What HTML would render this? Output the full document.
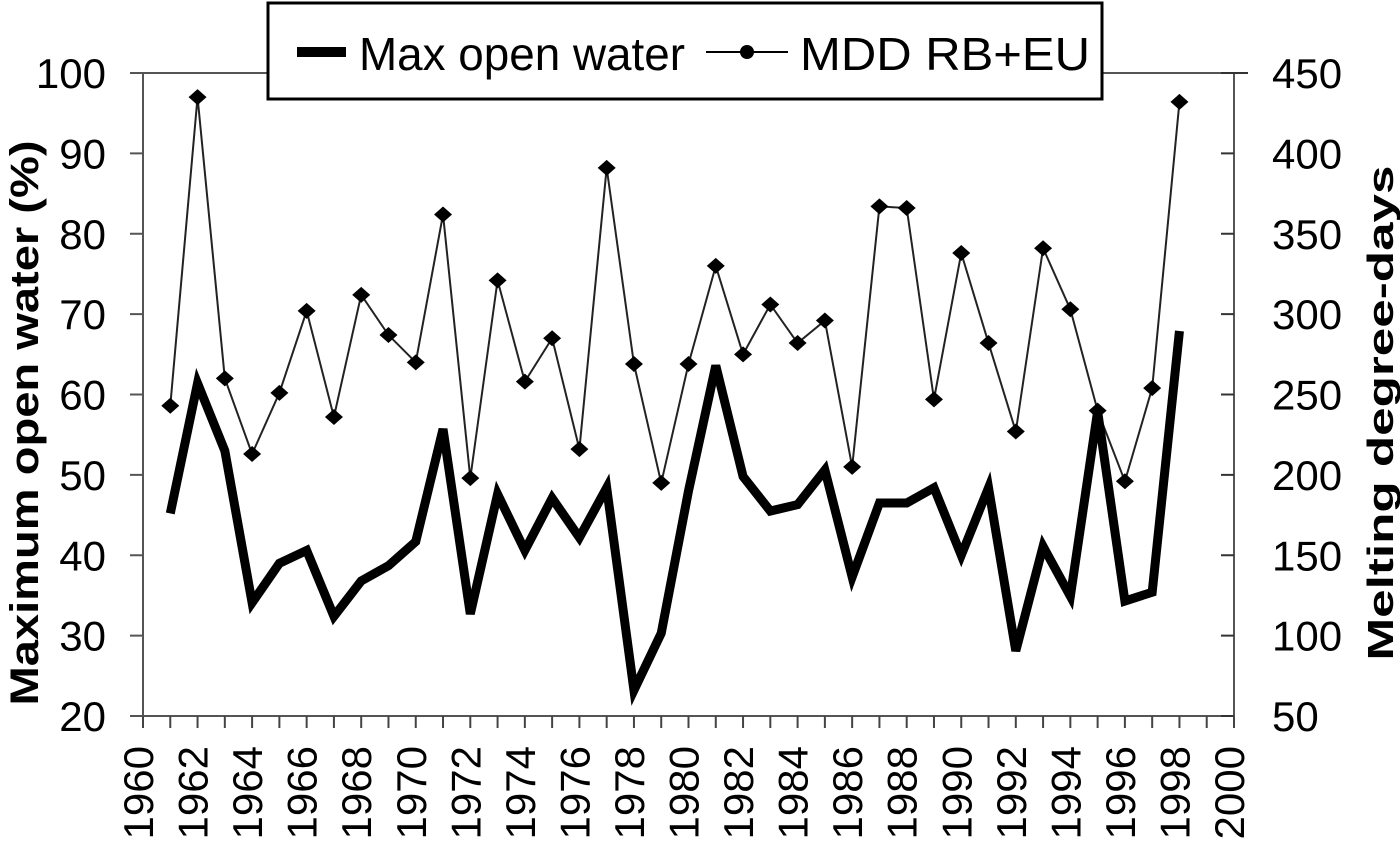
<!DOCTYPE html>
<html><head><meta charset="utf-8"><style>
html,body{margin:0;padding:0;background:#fff}
svg{display:block}
text{font-family:"Liberation Sans",Arial,sans-serif;fill:#000}
</style></head><body>
<svg id="chart" width="1400" height="842" viewBox="0 0 1400 842"></svg>
<script>
const years=[1961,1962,1963,1964,1965,1966,1967,1968,1969,1970,1971,1972,1973,1974,1975,1976,1977,1978,1979,1980,1981,1982,1983,1984,1985,1986,1987,1988,1989,1990,1991,1992,1993,1994,1995,1996,1997,1998];
const openWater=[45.2,61.4,53.0,34.1,39.0,40.6,32.4,36.8,38.7,41.7,55.7,32.7,47.6,40.6,47.1,42.2,48.4,23.2,30.3,48,63.6,49.8,45.5,46.3,50.6,37.3,46.5,46.5,48.4,40.0,48.4,28.1,41.1,34.9,57.9,34.3,35.4,67.9];
const mdd=[243,435,260,213,251,302,236,312,287,270,362,198,321,258,285,216,391,269,195,269,330,275,306,282,296,205,367,366,247,338,282,227,341,303,240,196,254,432];
const leftTicks=[20,30,40,50,60,70,80,90,100];
const rightTicks=[50,100,150,200,250,300,350,400,450];
const xTicks=[1960,1962,1964,1966,1968,1970,1972,1974,1976,1978,1980,1982,1984,1986,1988,1990,1992,1994,1996,1998,2000];

const NS="http://www.w3.org/2000/svg";
const svg=document.getElementById('chart');
const L=143,R=1234,T=73,B=716;
const xs=y=>L+(y-1960)/40*(R-L);
const yl=v=>B-(v-20)/80*(B-T);
const yr=v=>B-(v-50)/400*(B-T);
function mk(tag,attrs,parent){const e=document.createElementNS(NS,tag);for(const k in attrs)e.setAttribute(k,attrs[k]);(parent||svg).appendChild(e);return e;}

const axes=mk('g',{});


mk('path',{d:`M${L} ${T}V${B}H${R}V${T}H${L}`,fill:'none',stroke:'#555','stroke-width':2},axes);
mk('line',{x1:R,x2:R+14,y1:T,y2:T,stroke:'#333','stroke-width':2},axes);
leftTicks.forEach(v=>{
  mk('line',{x1:L-13,x2:L,y1:yl(v),y2:yl(v),stroke:'#555','stroke-width':2},axes);
  const t=mk('text',{x:L-37,y:yl(v)+15,'text-anchor':'end','font-size':42},axes);t.textContent=v;
  
  
});
rightTicks.forEach(v=>{
  mk('line',{x1:R-13,x2:R,y1:yr(v),y2:yr(v),stroke:'#333','stroke-width':2},axes);
  const t=mk('text',{x:R+38,y:yr(v)+15,'text-anchor':'start','font-size':42},axes);t.textContent=v;
  
  
});
for(let y=1960;y<=2000;y++){mk('line',{x1:xs(y),x2:xs(y),y1:B,y2:B+12,stroke:'#444','stroke-width':2},axes);}
xTicks.forEach(y=>{
  const t=mk('text',{x:0,y:0,'text-anchor':'end','font-size':42,transform:`translate(${xs(y)+10},${B+30}) rotate(-90)`},axes);t.textContent=y;
  
  
});

const yt=mk('text',{x:0,y:0,'text-anchor':'middle','font-size':40,'font-weight':'bold',textLength:565,lengthAdjust:'spacingAndGlyphs',transform:`translate(38,423) rotate(-90)`});
yt.textContent='Maximum open water (%)';


const yt2=mk('text',{x:0,y:0,'text-anchor':'middle','font-size':36,'font-weight':'bold',textLength:495,lengthAdjust:'spacingAndGlyphs',transform:`translate(1393,413) rotate(-90)`});
yt2.textContent='Melting degree-days';



const mddLine=mk('polyline',{points:years.map((y,i)=>xs(y)+','+yr(mdd[i])).join(' '),fill:'none',stroke:'#222','stroke-width':2});


years.forEach((y,i)=>{
  const c=mk('path',{d:`M${xs(y)-9} ${yr(mdd[i])}L${xs(y)} ${yr(mdd[i])-8}L${xs(y)+9} ${yr(mdd[i])}L${xs(y)} ${yr(mdd[i])+8}Z`,fill:'#000'});
  
  
});
const owLine=mk('polyline',{points:years.map((y,i)=>xs(y)+','+yl(openWater[i])).join(' '),fill:'none',stroke:'#000','stroke-width':9,'stroke-linejoin':'miter'});



const lg=mk('g',{});


mk('rect',{x:268,y:3,width:834,height:96,fill:'#fff',stroke:'#000','stroke-width':3},lg);
mk('line',{x1:297,x2:346,y1:52,y2:52,stroke:'#000','stroke-width':10},lg);
const l1=mk('text',{x:359,y:70,'font-size':46,textLength:326,lengthAdjust:'spacingAndGlyphs'},lg);l1.textContent='Max open water';


mk('line',{x1:706,x2:788,y1:52,y2:52,stroke:'#000','stroke-width':2},lg);
mk('circle',{cx:747,cy:52,r:7,fill:'#000'},lg);
const l2=mk('text',{x:800,y:70,'font-size':46,textLength:290,lengthAdjust:'spacingAndGlyphs'},lg);l2.textContent='MDD RB+EU';


</script>
</body></html>
